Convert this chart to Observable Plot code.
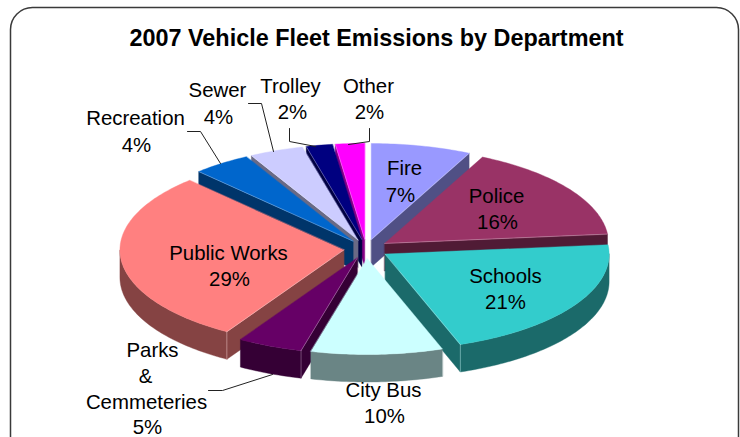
<!DOCTYPE html>
<html>
<head>
<meta charset="utf-8">
<style>
html,body{margin:0;padding:0;background:#fff;overflow:hidden}
</style>
<script src="https://cdn.jsdelivr.net/npm/d3@7"></script>
<script src="https://cdn.jsdelivr.net/npm/@observablehq/plot@0.6"></script>
</head>
<body>
<div id="chart"></div>
<script>
// ---- chart data ----
const chartTitle = "2007 Vehicle Fleet Emissions by Department";
const departments = ["Fire","Police","Schools","City Bus","Parks & Cemmeteries","Public Works","Recreation","Sewer","Trolley","Other"];
const shares = [7.2,16.25,21.1,9.5,4.7,29.15,4.2,3.9,1.9,2.1];
const colors = ["#9999FF","#993366","#33CCCC","#CCFFFF","#660066","#FF8080","#0066CC","#CCCCFF","#000080","#FF00FF"];

// ---- layout (pixels) ----
const W = 740, H = 437, cx = 365.7, cy = 248.4, rx = 224, ry = 96;
const explode = 0.1, depth = 27.5 / ry, shade = 0.52;
const labelLines = [
  ["Fire",404,168],["7%",400,195],
  ["Police",496,196],["16%",497,222],
  ["Schools",505,276],["21%",505,302],
  ["City Bus",383,390],["10%",384,416],
  ["Parks",152,350],["&",145,376],["Cemmeteries",146,402],["5%",147,426.5],
  ["Public Works",228,253],["29%",229,279],
  ["Recreation",135,118],["4%",136,145],
  ["Sewer",217,90],["4%",218,117],
  ["Trolley",290,86],["2%",292,112],
  ["Other",368,86],["2%",369,112]
];
const leaders = [
  [[187,131],[200,131],[220,163]],
  [[248,103],[261,103],[273,151]],
  [[289,128],[289,141],[315,146]],
  [[369,128],[369,141],[348,144]],
  [[208,390],[222,390],[272,374]]
];
const toX = px => (px - cx) / rx, toY = py => (cy - py) / ry;

// ---- geometry derived from the shares ----
const rad = Math.PI / 180;
const total = d3.sum(shares);
let running = 0;
const slices = departments.map((name, i) => {
  const t1 = running / total * 360;
  running += shares[i];
  const t2 = running / total * 360;
  const mid = (t1 + t2) / 2;
  return {name, color: colors[i], t1, t2, mid,
          ax: explode * Math.sin(mid * rad), ay: explode * Math.cos(mid * rad)};
});
const rim = (s, t) => ({x: s.ax + Math.sin(t * rad), y: s.ay + Math.cos(t * rad)});
const angles = (a, b) => { const r = d3.range(a, b, 1); r.push(b); return r; };
const dark = c => { const k = d3.rgb(c); return d3.rgb(k.r * shade, k.g * shade, k.b * shade).formatHex(); };
const pale = c => d3.interpolateRgb(c, "white")(0.65);
const order = d3.sort(slices, s => -Math.cos(s.mid * rad));

const wallPts = [], topPts = [], edgePts = [];
order.forEach(s => {
  const apex = {x: s.ax, y: s.ay};
  const c = dark(s.color);
  const add = (id, pts) => pts.forEach(p => wallPts.push({...p, id: s.name + id, color: c}));
  // radial faces that point at the viewer
  const faces = [];
  if (s.t2 > 0 && s.t2 < 180) faces.push(s.t2);
  if (s.t1 > 180 && s.t1 < 360) faces.push(s.t1);
  faces.forEach(t => {
    const e = rim(s, t);
    add("-r" + t, [apex, e, {x: e.x, y: e.y - depth}, {x: apex.x, y: apex.y - depth}]);
  });
  // outer rim face
  const a = Math.max(s.t1, 90), b = Math.min(s.t2, 270);
  if (b > a) {
    const arc = angles(a, b).map(t => rim(s, t));
    add("-o", [...arc, ...arc.slice().reverse().map(p => ({x: p.x, y: p.y - depth}))]);
    faces.forEach(t => {
      const e = rim(s, t);
      edgePts.push({...e, id: s.name + "-v", color: pale(s.color)}, {x: e.x, y: e.y - depth, id: s.name + "-v", color: pale(s.color)});
    });
  }
  faces.forEach(t => {
    edgePts.push({...apex, id: s.name + "-e", color: pale(s.color)}, {...rim(s, t), id: s.name + "-e", color: pale(s.color)});
  });
  // top face
  [apex, ...angles(s.t1, s.t2).map(t => rim(s, t))].forEach(p => topPts.push({...p, id: s.name, color: s.color}));
});

const leaderPts = leaders.flatMap((l, i) => l.map(([px, py]) => ({x: toX(px), y: toY(py), id: i})));
const face = pts => Plot.line(pts, {x: "x", y: "y", z: "id", fill: "color", stroke: "color", strokeWidth: 0.4, curve: "linear-closed"});

const chart = Plot.plot({
  width: W, height: H, margin: 0,
  style: {fontFamily: "'Liberation Sans', Arial, sans-serif", background: "#fff"},
  x: {domain: [-1, 1], range: [cx - rx, cx + rx], axis: null},
  y: {domain: [-1, 1], range: [cy + ry, cy - ry], axis: null},
  color: {type: "identity"},
  marks: [
    Plot.frame({rx: 22, stroke: "#3a3a3a", strokeWidth: 1.5, insetLeft: 10, insetTop: 7, insetRight: 2, insetBottom: -60}),
    Plot.text([chartTitle], {x: toX(376), y: toY(38), text: d => d, fontSize: 23.4, fontWeight: "bold", fill: "#000", lineAnchor: "middle"}),
    face(wallPts),
    face(topPts),
    Plot.line(edgePts, {x: "x", y: "y", z: "id", stroke: "color", strokeWidth: 0.7, strokeOpacity: 0.6}),
    Plot.line(leaderPts, {x: "x", y: "y", z: "id", stroke: "#222", strokeWidth: 1}),
    Plot.text(labelLines, {x: d => toX(d[1]), y: d => toY(d[2]), text: d => d[0], fontSize: 20.4, fill: "#000", lineAnchor: "middle"})
  ]
});
document.getElementById("chart").append(chart);
</script>
</body>
</html>
